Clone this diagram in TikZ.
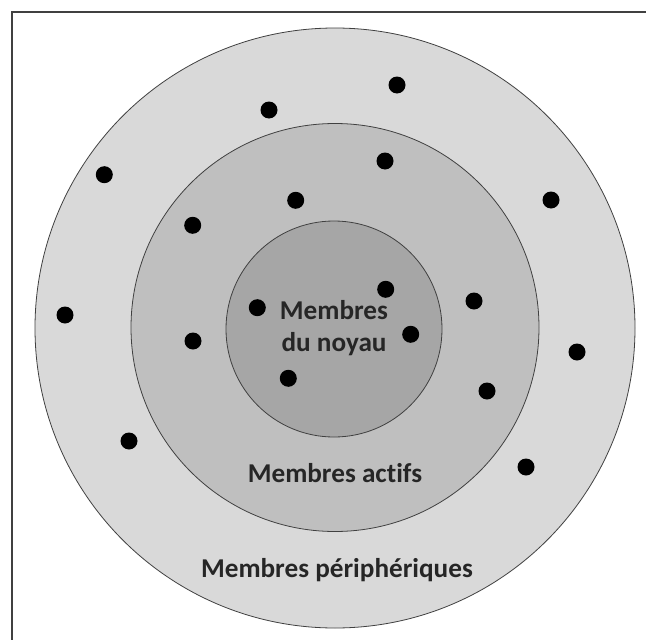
\documentclass[tikz,border=0pt]{standalone}
\usepackage{fontspec}
\setmainfont{Carlito}[Ligatures=NoCommon]
\definecolor{ringout}{HTML}{D9D9D9}
\definecolor{ringmid}{HTML}{BFBFBF}
\definecolor{ringin}{HTML}{A6A6A6}
\definecolor{edgegray}{HTML}{404040}
\begin{document}
\begin{tikzpicture}[x=1pt,y=-1pt,
  ring/.style={circle,draw=edgegray,line width=0.8pt,inner sep=0pt},
  member/.style={circle,fill=black,inner sep=0pt,minimum size=17pt},
  lbl/.style={font=\bfseries\fontsize{27.2}{32.7}\selectfont,text=black!85,align=center,inner sep=0pt}]
\useasboundingbox (0,0) rectangle (646,640);
\draw[edgegray,line width=1.3pt] (12,640) -- (12,12) -- (646,12);
\node[ring,fill=ringout,minimum size=600pt] (outer) at (335,328) {};
\node[ring,fill=ringmid,minimum size=408pt] (middle) at (335,327.5) {};
\node[ring,fill=ringin,minimum size=216pt] (inner) at (334,329) {};
% members
\node[member] (m1) at (397,85) {};
\node[member] (m2) at (269,110) {};
\node[member] (m3) at (104.3,174.7) {};
\node[member] (m4) at (385,161) {};
\node[member] (m5) at (551,200) {};
\node[member] (m6) at (192.7,225.3) {};
\node[member] (m7) at (295.7,200.3) {};
\node[member] (m8) at (65,315) {};
\node[member] (m9) at (257.3,307.7) {};
\node[member] (m10) at (385.7,289.3) {};
\node[member] (m11) at (474,301) {};
\node[member] (m12) at (410.7,334.3) {};
\node[member] (m13) at (193,341) {};
\node[member] (m14) at (577,352) {};
\node[member] (m15) at (288.3,378.3) {};
\node[member] (m16) at (487,391) {};
\node[member] (m17) at (129,441) {};
\node[member] (m18) at (526,467) {};
% labels
\node[lbl,anchor=base] (tnoyau) at (334,351.7) {Membres\\du noyau};
\node[lbl,anchor=base] (tactifs) at (335,482.7) {Membres actifs};
\node[lbl,anchor=base] (tperi) at (337,577) {Membres périphériques};
\end{tikzpicture}
\end{document}
